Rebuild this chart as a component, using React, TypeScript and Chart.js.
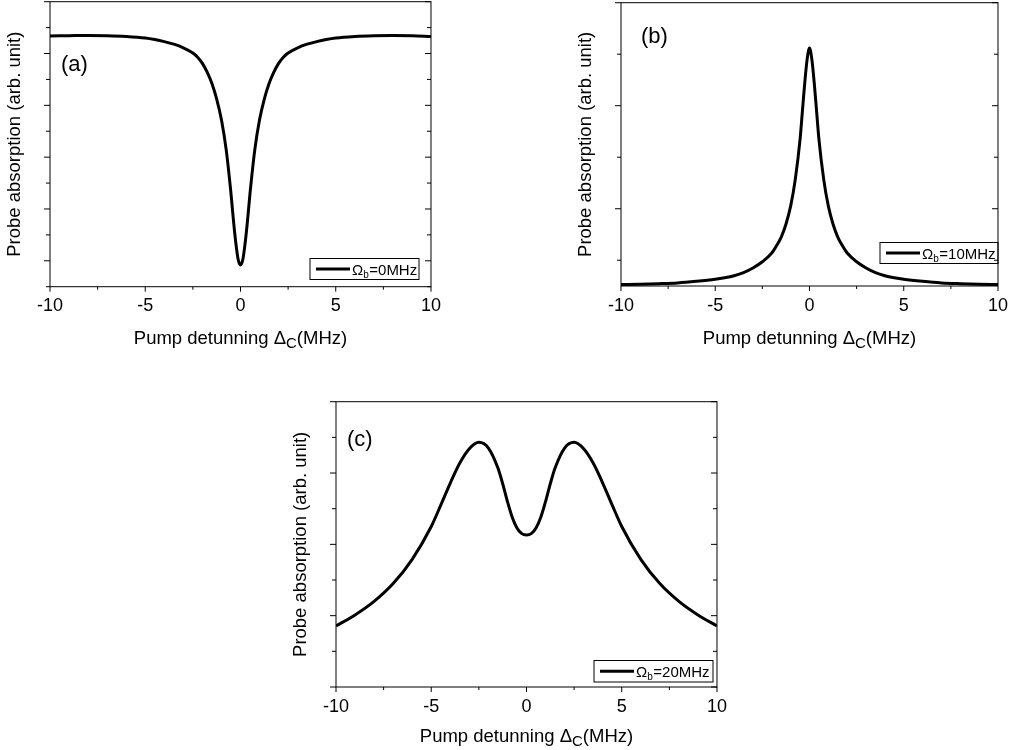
import React, { useEffect, useRef } from 'react';
import { Chart, registerables } from 'chart.js';

Chart.register(...registerables);

const FONT = '"Liberation Sans", Arial, Helvetica, sans-serif';

// ---------- data ----------
const detuningA = [-10, -9, -8, -7, -6, -5, -4.5, -4, -3.5, -3, -2.5, -2.25, -2, -1.75, -1.5, -1.25, -1, -0.75, -0.5, -0.375, -0.25, -0.125, 0, 0.125, 0.25, 0.375, 0.5, 0.75, 1, 1.25, 1.5, 1.75, 2, 2.25, 2.5, 3, 3.5, 4, 4.5, 5, 6, 7, 8, 9, 10];
const absorptionA = [4.84, 4.845, 4.85, 4.845, 4.83, 4.8, 4.77, 4.73, 4.68, 4.61, 4.51, 4.43, 4.31, 4.14, 3.92, 3.62, 3.22, 2.64, 1.8, 1.3, 0.86, 0.53, 0.42, 0.53, 0.86, 1.3, 1.8, 2.64, 3.22, 3.62, 3.92, 4.14, 4.31, 4.43, 4.51, 4.61, 4.68, 4.73, 4.77, 4.8, 4.83, 4.845, 4.85, 4.845, 4.83];

const detuningB = [-10, -9, -8, -7, -6, -5, -4.5, -4, -3.5, -3, -2.5, -2, -1.75, -1.5, -1.25, -1, -0.75, -0.5, -0.375, -0.25, -0.125, 0, 0.125, 0.25, 0.375, 0.5, 0.75, 1, 1.25, 1.5, 1.75, 2, 2.5, 3, 3.5, 4, 4.5, 5, 6, 7, 8, 9, 10];
const absorptionB = [0.03, 0.035, 0.045, 0.06, 0.09, 0.13, 0.16, 0.2, 0.26, 0.35, 0.47, 0.64, 0.78, 0.95, 1.2, 1.55, 2.08, 2.85, 3.4, 3.95, 4.4, 4.62, 4.4, 3.95, 3.4, 2.85, 2.08, 1.55, 1.2, 0.95, 0.78, 0.64, 0.47, 0.35, 0.26, 0.2, 0.16, 0.13, 0.09, 0.06, 0.045, 0.035, 0.03];

const detuningC = [-10, -9, -8, -7, -6, -5, -4.5, -4, -3.5, -3, -2.5, -2, -1.5, -1.25, -1, -0.75, -0.5, -0.25, 0, 0.25, 0.5, 0.75, 1, 1.25, 1.5, 2, 2.5, 3, 3.5, 4, 4.5, 5, 6, 7, 8, 9, 10];
const absorptionC = [0.855, 1.01, 1.2, 1.45, 1.79, 2.25, 2.55, 2.86, 3.14, 3.34, 3.43, 3.35, 3.07, 2.85, 2.6, 2.38, 2.23, 2.15, 2.13, 2.15, 2.23, 2.38, 2.6, 2.85, 3.07, 3.35, 3.43, 3.34, 3.14, 2.86, 2.55, 2.25, 1.79, 1.45, 1.2, 1.01, 0.855];

const xMajorTicks = [-10, -5, 0, 5, 10];
const xMinorTicks = [-7.5, -2.5, 2.5, 7.5];
const yMajorTicksA = [0.5, 1.5, 2.5, 3.5, 4.5, 5.5];
const yMinorTicksA = [0, 1, 2, 3, 4, 5];
const yMajorTicksB = [1.5, 3.5, 5.5];
const yMinorTicksB = [0.5, 2.5, 4.5];
const yMajorTicksC = [0, 1, 2, 3, 4];
const yMinorTicksC = [0.5, 1.5, 2.5, 3.5];

const panelLabels = ['(a)', '(b)', '(c)'];
const legendValues = ['=0MHz', '=10MHz', '=20MHz'];
const xTitleParts = ['Pump detunning \u0394', 'C', '(MHz)'];
const yTitle = 'Probe absorption (arb. unit)';

// ---------- layout (page coordinates) ----------
const panels = [
  {
    xs: detuningA, ys: absorptionA, yMax: 5.5, yMajor: yMajorTicksA, yMinor: yMinorTicksA,
    label: panelLabels[0], legend: legendValues[0],
    left: 0, top: 0, width: 450, height: 360, padTop: 1.7, padRight: 18, xAxisH: 73.3,
    labelPos: [61, 71], legendBox: [310, 258.5, 109, 21], xTitleBase: 344,
  },
  {
    xs: detuningB, ys: absorptionB, yMax: 5.5, yMajor: yMajorTicksB, yMinor: yMinorTicksB,
    label: panelLabels[1], legend: legendValues[1],
    left: 571, top: 0, width: 446, height: 360, padTop: 2.7, padRight: 14, xAxisH: 74,
    labelPos: [641, 43], legendBox: [880, 242.5, 118, 21], xTitleBase: 344,
  },
  {
    xs: detuningC, ys: absorptionC, yMax: 4, yMajor: yMajorTicksC, yMinor: yMinorTicksC,
    label: panelLabels[2], legend: legendValues[2],
    left: 286, top: 400, width: 450, height: 350, padTop: 1.7, padRight: 18, xAxisH: 63,
    labelPos: [347, 446], legendBox: [594, 660.5, 119, 21.5], xTitleBase: 742,
  },
];

type PanelCfg = typeof panels[number];

function makeDecor(p: PanelCfg) {
  return {
    id: 'decor',
    afterDraw(chart: any) {
      const { ctx, chartArea } = chart;
      const { left, right, top, bottom } = chartArea;
      const x = chart.scales.x;
      const y = chart.scales.y;
      const ox = p.left;
      const oy = p.top;
      ctx.save();
      ctx.strokeStyle = '#000';
      ctx.fillStyle = '#000';
      ctx.lineWidth = 1;
      ctx.strokeRect(left, top, right - left, bottom - top);
      const seg = (x1: number, y1: number, x2: number, y2: number) => {
        ctx.beginPath();
        ctx.moveTo(x1, y1);
        ctx.lineTo(x2, y2);
        ctx.stroke();
      };
      p.yMajor.forEach((v) => {
        const py = y.getPixelForValue(v);
        seg(left - 6, py, left, py);
        seg(right, py, right - 6, py);
      });
      p.yMinor.forEach((v) => {
        const py = y.getPixelForValue(v);
        seg(left - 4, py, left, py);
        seg(right, py, right - 4, py);
      });
      xMajorTicks.forEach((v) => {
        const px = x.getPixelForValue(v);
        seg(px, bottom, px, bottom + 5);
      });
      xMinorTicks.forEach((v) => {
        const px = x.getPixelForValue(v);
        seg(px, bottom, px, bottom + 3);
      });

      // panel label
      ctx.font = `22px ${FONT}`;
      ctx.textBaseline = 'alphabetic';
      ctx.textAlign = 'left';
      ctx.fillText(p.label, p.labelPos[0] - ox, p.labelPos[1] - oy);

      // x title with subscript
      const mainFont = `18.5px ${FONT}`;
      const subFont = `15px ${FONT}`;
      ctx.font = mainFont;
      const w1 = ctx.measureText(xTitleParts[0]).width;
      const w3 = ctx.measureText(xTitleParts[2]).width;
      ctx.font = subFont;
      const w2 = ctx.measureText(xTitleParts[1]).width;
      const total = w1 + w2 + w3;
      let tx = (left + right) / 2 - total / 2;
      const tb = p.xTitleBase - oy;
      ctx.font = mainFont;
      ctx.fillText(xTitleParts[0], tx, tb);
      tx += w1;
      ctx.font = subFont;
      ctx.fillText(xTitleParts[1], tx, tb + 3.5);
      tx += w2;
      ctx.font = mainFont;
      ctx.fillText(xTitleParts[2], tx, tb);

      // y title
      ctx.save();
      ctx.translate(left - 35, (top + bottom) / 2);
      ctx.rotate(-Math.PI / 2);
      ctx.font = mainFont;
      ctx.textAlign = 'center';
      ctx.textBaseline = 'middle';
      ctx.fillText(yTitle, 0, 0);
      ctx.restore();

      // legend
      const [bx, by, bw, bh] = p.legendBox;
      const lx = bx - ox;
      const ly = by - oy;
      ctx.lineWidth = 1;
      ctx.strokeStyle = '#000';
      ctx.strokeRect(lx, ly, bw, bh);
      const cy = ly + bh / 2;
      ctx.lineWidth = 3;
      seg(lx + 6, cy, lx + 40, cy);
      const base = ly + bh - 5;
      let gx = lx + 42;
      ctx.font = `15px ${FONT}`;
      ctx.textAlign = 'left';
      ctx.textBaseline = 'alphabetic';
      ctx.fillText('\u03A9', gx, base);
      gx += ctx.measureText('\u03A9').width;
      ctx.font = `10px ${FONT}`;
      ctx.fillText('b', gx, base + 3);
      gx += ctx.measureText('b').width + 0.5;
      ctx.font = `15px ${FONT}`;
      ctx.fillText(p.legend, gx, base);
      ctx.restore();
    },
  };
}

function Panel({ cfg }: { cfg: PanelCfg }) {
  const ref = useRef<HTMLCanvasElement>(null);
  useEffect(() => {
    const canvas = ref.current;
    if (!canvas) return;
    const chart = new Chart(canvas, {
      type: 'line',
      data: {
        datasets: [
          {
            data: cfg.xs.map((x, i) => ({ x, y: cfg.ys[i] })),
            borderColor: '#000',
            borderWidth: 3,
            pointRadius: 0,
            fill: false,
            cubicInterpolationMode: 'monotone',
          },
        ],
      },
      options: {
        animation: false,
        responsive: false,
        devicePixelRatio: 1,
        events: [],
        layout: { padding: { top: cfg.padTop, right: cfg.padRight, left: 0, bottom: 0 } },
        plugins: { legend: { display: false }, tooltip: { enabled: false }, title: { display: false } },
        scales: {
          x: {
            type: 'linear',
            min: -10,
            max: 10,
            grid: { display: false, drawTicks: false },
            border: { display: false },
            ticks: {
              stepSize: 5,
              padding: 9,
              color: '#000',
              maxRotation: 0,
              autoSkip: false,
              font: { family: FONT, size: 18 },
            },
            afterFit: (s: any) => {
              s.height = cfg.xAxisH;
            },
          },
          y: {
            type: 'linear',
            min: 0,
            max: cfg.yMax,
            grid: { display: false, drawTicks: false },
            border: { display: false },
            ticks: { display: false },
            afterFit: (s: any) => {
              s.width = 50;
            },
          },
        },
      } as any,
      plugins: [makeDecor(cfg)],
    });
    return () => chart.destroy();
  }, [cfg]);
  return (
    <canvas
      ref={ref}
      width={cfg.width}
      height={cfg.height}
      style={{ position: 'absolute', left: cfg.left, top: cfg.top, width: cfg.width, height: cfg.height }}
    />
  );
}

export default function App() {
  return (
    <div style={{ position: 'absolute', left: 0, top: 0, width: 1017, height: 750, overflow: 'hidden', background: '#fff' }}>
      {panels.map((p, i) => (
        <Panel key={i} cfg={p} />
      ))}
    </div>
  );
}
